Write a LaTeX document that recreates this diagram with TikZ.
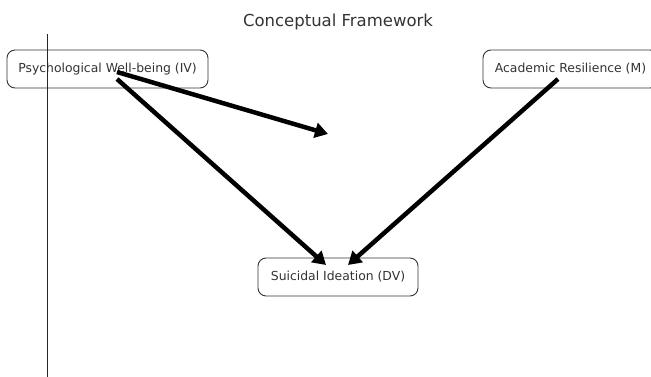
\documentclass[tikz,border=0pt]{standalone}
\usepackage{fontspec}
\setmainfont{DejaVu Sans}
\usetikzlibrary{arrows.meta}
\begin{document}
\begin{tikzpicture}[x=1pt,y=-1pt,
  box/.style={draw=black!80, line width=0.9pt, rounded corners=8pt, minimum height=38pt, inner sep=0pt, font=\fontsize{12.4pt}{14pt}\selectfont, text=black!80},
  bigarrow/.style={line width=4.5pt, -{Triangle[length=13pt,width=15pt]}},
  axisline/.style={line width=0.8pt, black!85}]
\useasboundingbox (0,0) rectangle (651,377);
\node[font=\fontsize{16.5pt}{19pt}\selectfont, text=black!80] (title) at (338,22) {Conceptual Framework};
\node[box, minimum width=201pt] (iv) at (107.5,69) {Psychological Well-being (IV)};
\node[box, minimum width=175pt] (m) at (570.5,69) {Academic Resilience (M)};
\node[box, minimum width=160pt] (dv) at (338,277) {Suicidal Ideation (DV)};
\coordinate (vtop) at (47,34);
\coordinate (vbot) at (47,377);
\draw[axisline] (vtop) -- (vbot);
\coordinate (s1) at (117,72);
\coordinate (e1) at (328,134);
\coordinate (s2) at (117,79);
\coordinate (e2) at (326,265);
\coordinate (s3) at (558,79);
\coordinate (e3) at (348,265);
\draw[bigarrow] (s1) -- (e1);
\draw[bigarrow] (s2) -- (e2);
\draw[bigarrow] (s3) -- (e3);
\end{tikzpicture}
\end{document}
